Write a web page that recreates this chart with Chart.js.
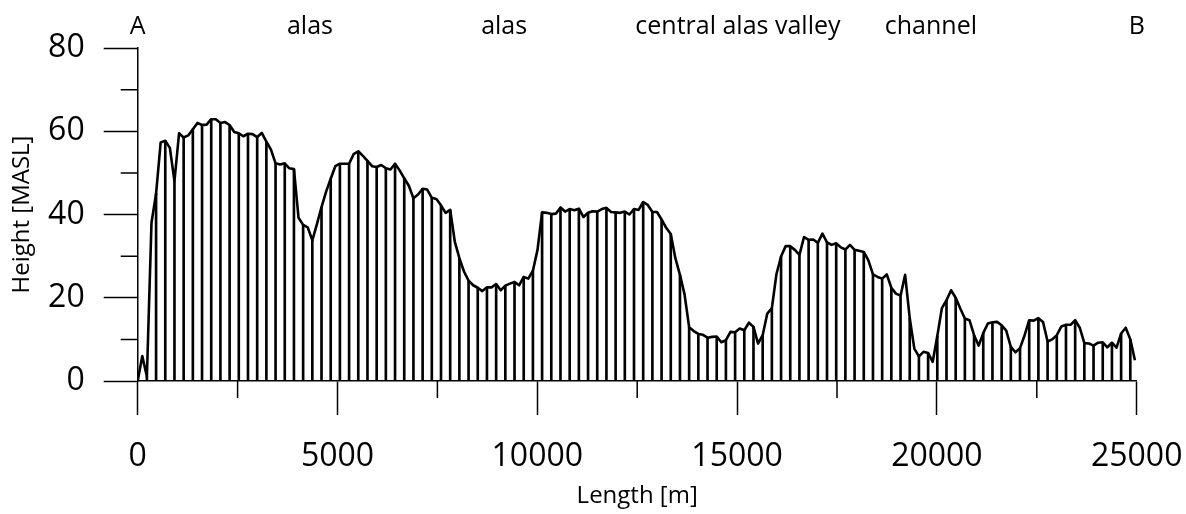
<!DOCTYPE html>
<html>
<head>
<meta charset="utf-8">
<script src="https://cdn.jsdelivr.net/npm/chart.js@4"></script>
<style>
  html, body { margin: 0; padding: 0; background: #fff; }
  #wrap { width: 1186px; height: 514px; }
</style>
</head>
<body>
<div id="wrap"><canvas id="profile"></canvas></div>
<script>
// profile sampled every 115 m along A-B, hatch line on every second sample
const sampleStep = 115;
const heights = [
    0, 6, 1, 38, 45, 57.3, 57.7, 56, 48, 59.5,
    58.5, 59, 60.5, 62, 61.5, 61.6, 62.9, 62.9, 62, 62.2,
    61.5, 59.8, 59.5, 58.8, 59.4, 59.3, 58.6, 59.6, 57.5, 55.6,
    52.3, 52, 52.3, 51.1, 50.9, 39.2, 37.5, 36.9, 33.8, 37.7,
    41.8, 45.5, 48.6, 51.6, 52.2, 52.2, 52.2, 54.5, 55.2, 54.1,
    52.9, 51.6, 51.4, 51.9, 51.1, 50.8, 52.2, 50.6, 48.7, 46.9,
    43.9, 44.8, 46.2, 46, 44, 43.7, 42.2, 40.4, 41.1, 33.5,
    29.5, 26.3, 24.1, 23, 22.4, 21.6, 22.5, 22.5, 23.3, 21.8,
    22.9, 23.4, 23.8, 23, 25, 24.6, 26.5, 31.5, 40.5, 40.4,
    40.1, 40.2, 41.7, 40.7, 41.3, 41, 41.4, 39.4, 40.4, 40.8,
    40.7, 41.3, 41.6, 40.6, 40.5, 40.4, 40.7, 40, 41.3, 41.1,
    43, 42.3, 40.6, 40.6, 38.8, 36.8, 35.3, 29.5, 25.5, 20.8,
    12.9, 12, 11.3, 11.1, 10.4, 10.6, 10.7, 9.3, 9.8, 11.8,
    11.7, 12.6, 12.2, 14, 13, 9, 11, 16.2, 17.5, 25.7,
    29.9, 32.4, 32.4, 31.5, 30.3, 34.6, 33.9, 34, 33.2, 35.4,
    33.3, 32.7, 33.1, 32.1, 31.6, 32.7, 31.5, 31.3, 31, 29,
    25.6, 25, 24.6, 25.6, 22.4, 21, 20.5, 25.5, 15.1, 7.8,
    5.9, 7, 6.7, 4.6, 10.8, 17.5, 19.4, 21.8, 20, 17.4,
    15, 14.6, 11, 8.5, 11.5, 13.8, 14.1, 14.2, 13.4, 12.1,
    8.2, 6.9, 7.9, 11, 14.6, 14.5, 15.1, 14.2, 9.5, 10,
    11, 13.1, 13.5, 13.5, 14.6, 12.8, 9.1, 9, 8.5, 9.2,
    9.3, 8.1, 9.2, 8, 11.4, 12.8, 10, 5,
];

const xMinorTicks = [2500, 7500, 12500, 17500, 22500];
const yMinorTicks = [10, 30, 50, 70];

const placeNames = ['A', 'alas', 'alas', 'central alas valley', 'channel', 'B'];
const placeDistances = [0, 4310, 9170, 15020, 19850, 25000];

const profilePoints = heights.map((h, i) => ({ x: i * sampleStep, y: h }));
const hatchPoints = profilePoints.filter((p, i) => i % 2 === 0);

Chart.defaults.font.family = "'Open Sans', sans-serif";
Chart.defaults.color = '#000';

const minorTicks = {
    id: 'minorTicks',
    afterDraw(chart) {
        const { ctx, chartArea, scales } = chart;
        ctx.save();
        ctx.strokeStyle = '#000';
        ctx.lineWidth = 1.5;
        ctx.beginPath();
        xMinorTicks.forEach((v) => {
            const x = scales.x.getPixelForValue(v);
            ctx.moveTo(x, chartArea.bottom);
            ctx.lineTo(x, chartArea.bottom + 17);
        });
        yMinorTicks.forEach((v) => {
            const y = scales.y.getPixelForValue(v);
            ctx.moveTo(chartArea.left - 17, y);
            ctx.lineTo(chartArea.left, y);
        });
        ctx.stroke();
        ctx.restore();
    },
};

const placeLabels = {
    id: 'placeLabels',
    afterDraw(chart) {
        const { ctx, scales } = chart;
        ctx.save();
        ctx.fillStyle = '#000';
        ctx.font = "25px 'Open Sans', sans-serif";
        ctx.textAlign = 'center';
        ctx.textBaseline = 'middle';
        placeNames.forEach((name, i) => {
            ctx.fillText(name, scales.x.getPixelForValue(placeDistances[i]), 27);
        });
        ctx.restore();
    },
};

const axisLook = {
    grid: {
        display: true,
        offset: false,
        drawOnChartArea: false,
        drawTicks: true,
        tickLength: 34,
        tickColor: '#000',
        tickWidth: 1.5,
    },
    border: { display: true, color: '#000', width: 1.5 },
};

new Chart(document.getElementById('profile'), {
    type: 'line',
    data: {
        datasets: [
            {
                type: 'line',
                data: profilePoints,
                borderColor: '#000',
                borderWidth: 2.6,
                pointRadius: 0,
                tension: 0,
                borderJoinStyle: 'round',
                order: 0,
            },
            {
                type: 'bar',
                data: hatchPoints,
                backgroundColor: '#000',
                barThickness: 2,
                grouped: false,
                order: 1,
            },
        ],
    },
    options: {
        responsive: true,
        maintainAspectRatio: false,
        animation: false,
        layout: { padding: { top: 48, right: 49.3, bottom: 0, left: 0 } },
        plugins: {
            legend: { display: false },
            tooltip: { enabled: false },
        },
        scales: {
            x: {
                type: 'linear',
                min: 0,
                max: 25000,
                offset: false,
                ticks: {
                    stepSize: 5000,
                    padding: 23,
                    maxRotation: 0,
                    font: { size: 32 },
                    callback: (v) => String(v),
                },
                ...axisLook,
                title: {
                    display: true,
                    text: 'Length [m]',
                    font: { size: 24 },
                    padding: { top: 0, bottom: 3 },
                },
                afterFit(scale) {
                    scale.height = 133;
                    scale.paddingLeft = 0;
                    scale.paddingRight = 0;
                },
            },
            y: {
                min: 0,
                max: 80,
                ticks: {
                    stepSize: 20,
                    padding: 19,
                    font: { size: 32 },
                },
                ...axisLook,
                title: {
                    display: true,
                    text: 'Height [MASL]',
                    font: { size: 24 },
                    padding: { top: 8, bottom: 0 },
                },
                afterFit(scale) {
                    scale.width = 137.7;
                    scale.paddingTop = 0;
                    scale.paddingBottom = 0;
                },
            },
        },
    },
    plugins: [minorTicks, placeLabels],
});
</script>
</body>
</html>
